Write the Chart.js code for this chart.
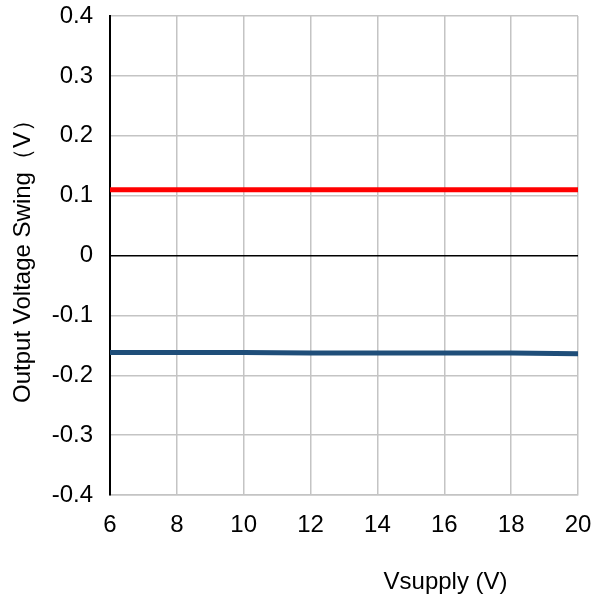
<!DOCTYPE html>
<html>
<head>
<meta charset="utf-8">
<script src="https://cdn.jsdelivr.net/npm/chart.js@4"></script>
<style>
    html, body { margin: 0; padding: 0; background: #fff; }
    #wrap { width: 608px; height: 600px; position: relative; }
</style>
</head>
<body>
<div id="wrap"><canvas id="myChart"></canvas></div>
<script>
// supply voltage (x) and output swing levels (y)
const vsupply = [6, 8, 10, 12, 14, 16, 18, 20];
const swingHigh = [0.110, 0.110, 0.110, 0.110, 0.110, 0.110, 0.110, 0.110];
const swingLow = [-0.162, -0.162, -0.162, -0.163, -0.163, -0.163, -0.163, -0.164];

const xTitle = 'Vsupply (V)';
const yTitle = 'Output Voltage Swing（V）';

const FONT = '"Liberation Sans", Arial, sans-serif';

function toPoints(ys) {
    return vsupply.map((x, i) => ({ x: x, y: ys[i] }));
}

// x axis title sits right of centre in the reference, so draw it ourselves
const xTitlePlugin = {
    id: 'xTitle',
    afterDraw(chart) {
        const area = chart.chartArea;
        const c = chart.ctx;
        c.save();
        c.font = '24px ' + FONT;
        c.fillStyle = '#000';
        c.textAlign = 'center';
        c.textBaseline = 'middle';
        c.fillText(xTitle, area.left + (area.right - area.left) * 0.717, 582);
        c.restore();
    }
};

const ctx = document.getElementById('myChart');

let chart = new Chart(ctx, {
    type: 'line',
    data: {
        datasets: [{
            label: 'High',
            data: toPoints(swingHigh),
            borderColor: '#ff0000',
            borderWidth: 5,
            pointRadius: 0,
            tension: 0
        }, {
            label: 'Low',
            data: toPoints(swingLow),
            borderColor: '#1f4e79',
            borderWidth: 5,
            pointRadius: 0,
            tension: 0
        }]
    },
    options: {
        responsive: true,
        maintainAspectRatio: false,
        animation: false,
        layout: {
            padding: { top: 16, right: 30, left: 0, bottom: 0 }
        },
        plugins: {
            legend: { display: false },
            tooltip: { enabled: false }
        },
        scales: {
            x: {
                type: 'linear',
                min: 6,
                max: 20,
                ticks: {
                    stepSize: 2,
                    padding: 16,
                    color: '#000',
                    font: { family: FONT, size: 24 }
                },
                grid: {
                    color: '#c4c4c4',
                    lineWidth: 1.5,
                    drawTicks: false
                },
                border: { color: '#c4c4c4', width: 1.5 },
                afterFit: s => { s.height = 105; }
            },
            y: {
                min: -0.4,
                max: 0.4,
                ticks: {
                    stepSize: 0.1,
                    padding: 17,
                    color: '#000',
                    font: { family: FONT, size: 24 },
                    callback: v => {
                        let r = Math.round(v * 10) / 10;
                        return r === 0 ? '0' : r.toString();
                    }
                },
                grid: {
                    color: c => Math.abs(c.tick.value) < 1e-9 ? '#000' : '#c4c4c4',
                    lineWidth: 1.5,
                    drawTicks: false
                },
                border: { color: '#000', width: 2 },
                title: {
                    display: true,
                    text: yTitle,
                    color: '#000',
                    font: { family: FONT, size: 24 },
                    padding: { top: 9, bottom: 0 }
                },
                afterFit: s => {
                    s.width = 110;
                    s.paddingTop = 0;
                    s.paddingBottom = 0;
                }
            }
        }
    },
    plugins: [xTitlePlugin]
});
</script>
</body>
</html>
